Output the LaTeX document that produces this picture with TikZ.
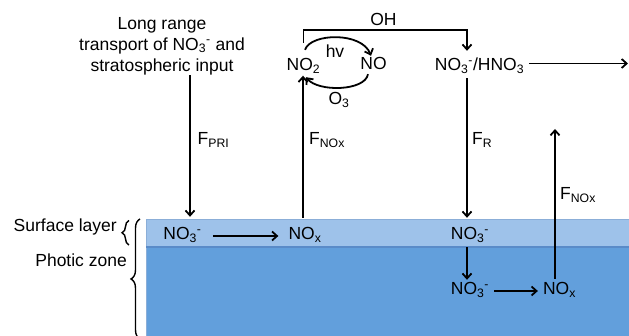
\documentclass[tikz,border=0pt]{standalone}
\usepackage{fontspec}
\setmainfont{Liberation Sans}
\usetikzlibrary{arrows.meta,decorations.pathreplacing}
\newcommand{\nitr}{NO\textsubscript{3}\textsuperscript{-}}
\definecolor{bandlight}{HTML}{9EC2EA}
\definecolor{banddeep}{HTML}{629FDC}
\definecolor{bandline}{HTML}{5A8BC8}
\begin{document}
\begin{tikzpicture}[x=1pt,y=1pt,
  every node/.style={font=\fontsize{17.5}{21}\selectfont},
  chem/.style={anchor=base, inner sep=0pt, text height=12pt, text depth=4pt},
  lbl/.style={anchor=base, inner sep=0pt},
  arr/.style={line width=1.8pt, -{Straight Barb[length=5pt,width=9pt]}},
  brc/.style={decorate, line width=1.4pt}]
\useasboundingbox (0,0) rectangle (629,336);
% water layers
\fill[banddeep] (146,0) rectangle (629,89);
\fill[bandlight] (146,89) rectangle (629,117);
\draw[bandline!70, line width=0.8pt] (146,0) -- (146,117) -- (629,117);
\draw[bandline, line width=1.5pt] (146,89) -- (629,89);
% nodes
\node[lbl, anchor=north, align=center] (src) at (162,319) {Long range\\transport of \nitr{} and\\stratospheric input};
\node[chem] (no3s) at (182.5,96) {\nitr};
\node[chem] (noxs) at (305,96) {NO\textsubscript{x}};
\node[chem] (no2) at (303.5,265.5) {NO\textsubscript{2}};
\node[chem] (no) at (373.5,266) {NO};
\node[chem] (hno3) at (479.5,265.5) {\nitr/HNO\textsubscript{3}};
\node[chem] (no3m) at (470,96) {\nitr};
\node[chem] (no3d) at (470,41) {\nitr};
\node[chem] (noxd) at (559.5,41) {NO\textsubscript{x}};
\node[lbl] (oh) at (383.5,310) {OH};
\node[lbl] (hv) at (335,278) {hv};
\node[lbl] (o3) at (339,231) {O\textsubscript{3}};
\node[lbl, anchor=base west] (fpri) at (197.5,191) {F\textsubscript{PRI}};
\node[lbl, anchor=base west] (fnox1) at (309,191) {F\textsubscript{NOx}};
\node[lbl, anchor=base west] (fr) at (472,191) {F\textsubscript{R}};
\node[lbl, anchor=base west] (fnox2) at (560,136) {F\textsubscript{NOx}};
\node[lbl, anchor=base east] (surf) at (117,104) {Surface layer};
\node[lbl, anchor=base east] (photic) at (127,69) {Photic zone};
\coordinate (out) at (628,272.5);
\coordinate (uptop) at (555,207);
% connectors
\draw[arr] ([xshift=28pt]src.south) -- ([xshift=7.5pt,yshift=11pt]no3s.north);
\draw[arr] ([xshift=11pt]no3s.east) -- ([xshift=-10pt]noxs.west);
\draw[arr] ([xshift=-2pt,yshift=10pt]noxs.north) -- ([xshift=-0.5pt,yshift=-1pt]no2.south);
\draw[arr] ([yshift=15.5pt]no2.north) -- ++(0,12.5) -| ([xshift=-12.5pt,yshift=7.5pt]hno3.north);
\draw[arr] ([xshift=1.5pt,yshift=8.5pt]no2.north) .. controls +(6,17) and +(-9,24) .. ([xshift=-2.5pt,yshift=2pt]no.north);
\draw[arr] ([xshift=-5.5pt]no.south) .. controls +(-3,-17) and +(12,-15) .. ([xshift=2.5pt,yshift=-2.5pt]no2.south);
\draw[arr] ([xshift=5pt,yshift=3pt]hno3.east) -- (out);
\draw[arr] ([xshift=-12.5pt,yshift=-3.5pt]hno3.south) -- ([xshift=-3pt,yshift=10pt]no3m.north);
\draw[arr] ([xshift=-3pt,yshift=-3pt]no3m.south) -- ([xshift=-3pt,yshift=3pt]no3d.north);
\draw[arr] ([xshift=5pt]no3d.east) -- ([xshift=-5pt]noxd.west);
\draw[arr] ([xshift=-4.5pt,yshift=4pt]noxd.north) -- (uptop);
% braces
\draw[brc, decoration={brace,amplitude=7pt}] (129,91) -- (129,115.5);
\draw[brc, decoration={brace,amplitude=9pt}] (140,-3) -- (140,117);
\end{tikzpicture}
\end{document}
